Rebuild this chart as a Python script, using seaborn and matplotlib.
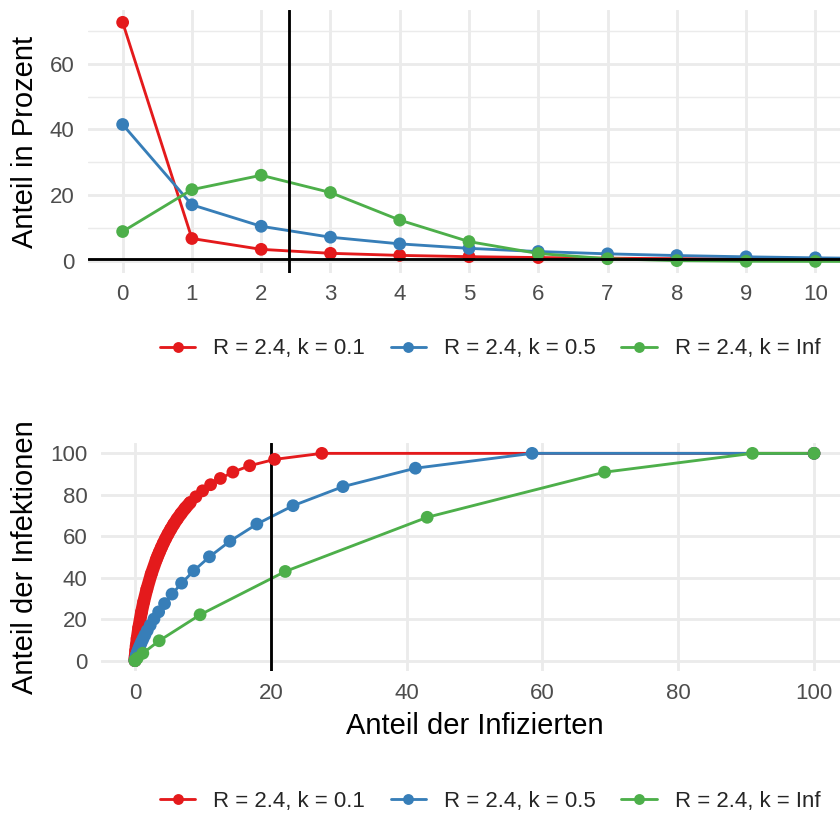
import matplotlib
matplotlib.use("Agg")
import matplotlib.pyplot as plt
from matplotlib.lines import Line2D
from matplotlib.ticker import FixedLocator
import pandas as pd
import seaborn as sns

# ---- data -------------------------------------------------------------
labels = ["R = 2.4, k = 0.1", "R = 2.4, k = 0.5", "R = 2.4, k = Inf"]
colors = ["#E41A1C", "#377EB8", "#4DAF4A"]

# share of cases (in percent) by number of secondary infections
counts = list(range(12))
share_k01 = [72.48, 6.96, 3.67, 2.47, 1.84, 1.45, 1.18, 0.99, 0.84, 0.73, 0.63, 0.56]
share_k05 = [41.52, 17.18, 10.66, 7.35, 5.33, 3.97, 3.01, 2.31, 1.79, 1.40, 1.10, 0.87]
share_kinf = [9.07, 21.77, 26.13, 20.90, 12.54, 6.02, 2.41, 0.83, 0.25, 0.07, 0.02, 0.00]

r_value = 2.4        # vertical reference line (mean of the distribution)
share_ref = 0.8      # horizontal reference line
infected_ref = 20    # vertical reference line in the lower panel

# share of infected persons (x) vs share of infections they cause (y)
infected_k01 = [100, 27.52, 20.56, 16.89, 14.42, 12.58, 11.14, 9.96, 8.97, 8.13,
                7.40, 6.77, 6.21, 5.71, 5.27, 4.87, 4.51, 4.18, 3.89, 3.62, 3.37,
                3.14, 2.40, 1.75, 1.29, 0.96, 0.55, 0.32, 0.19, 0.11, 0.04, 0.01, 0.0]
infections_k01 = [100, 100, 97.10, 94.04, 90.95, 87.89, 84.88, 81.93, 79.05, 76.25,
                  73.52, 70.88, 68.31, 65.83, 63.42, 61.10, 58.85, 56.67, 54.57, 52.55,
                  50.59, 48.70, 41.79, 34.47, 28.40, 23.38, 15.81, 10.68, 7.20, 4.86,
                  2.22, 1.03, 0.0]
infected_k05 = [100, 58.48, 41.30, 30.63, 23.28, 17.95, 13.98, 10.97, 8.66, 6.87,
                5.46, 4.36, 3.49, 2.80, 2.25, 1.81, 1.46, 1.18, 0.95, 0.77, 0.63,
                0.51, 0.41, 0.34, 0.27, 0.22, 0.18, 0.09, 0.03, 0.0]
infections_k05 = [100, 100, 92.84, 83.95, 74.76, 65.88, 57.62, 50.10, 43.35, 37.37,
                  32.11, 27.52, 23.52, 20.07, 17.09, 14.53, 12.34, 10.46, 8.86, 7.50,
                  6.34, 5.35, 4.51, 3.80, 3.20, 2.69, 2.26, 1.07, 0.42, 0.0]
infected_kinf = [100, 90.93, 69.16, 43.03, 22.13, 9.59, 3.57, 1.16, 0.33, 0.09, 0.02, 0.0]
infections_kinf = [100, 100, 90.93, 69.16, 43.03, 22.13, 9.59, 3.57, 1.16, 0.33, 0.09, 0.02]

# ---- tables -------------------------------------------------------------
top = pd.DataFrame({
    "count": counts * 3,
    "share": share_k01 + share_k05 + share_kinf,
    "series": [labels[0]] * len(counts) + [labels[1]] * len(counts) + [labels[2]] * len(counts),
})
bottom = pd.DataFrame({
    "infected": infected_k01 + infected_k05 + infected_kinf,
    "infections": infections_k01 + infections_k05 + infections_kinf,
    "series": [labels[0]] * len(infected_k01) + [labels[1]] * len(infected_k05)
              + [labels[2]] * len(infected_kinf),
})
dense_k01 = pd.DataFrame({"infected": infected_k01[9:], "infections": infections_k01[9:]})

# ---- style --------------------------------------------------------------
sns.set_theme(style="white")
plt.rcParams["font.family"] = ["Liberation Sans", "DejaVu Sans"]

LW = 2.05          # line width (pt)
MS = 9.2           # marker diameter (pt)
GRID = "#EBEBEB"
TICK_COLOR = "#4D4D4D"
palette = dict(zip(labels, colors))

W, H = 840, 823
fig = plt.figure(figsize=(W / 100, H / 100), dpi=100)


def rect(left, top_, right, bottom_):
    return [left / W, 1 - bottom_ / H, (right - left) / W, (bottom_ - top_) / H]


ax1 = fig.add_axes(rect(88, 10.4, 850, 273.4))
ax2 = fig.add_axes(rect(101, 443, 848, 671))

for ax in (ax1, ax2):
    for s in ax.spines.values():
        s.set_visible(False)
    ax.set_facecolor("white")
    ax.set_axisbelow(True)
    ax.tick_params(length=0, labelsize=16, labelcolor=TICK_COLOR)
    ax.tick_params(axis="y", pad=9.7)

# ---- upper panel: distribution of secondary infections --------------------
sns.lineplot(data=top, x="count", y="share", hue="series", hue_order=labels,
             palette=palette, linewidth=LW, estimator=None, sort=False,
             legend=False, ax=ax1, zorder=2)
sns.scatterplot(data=top, x="count", y="share", hue="series", hue_order=labels,
                palette=palette, s=MS ** 2, linewidth=0, legend=False, ax=ax1, zorder=3)
ax1.axvline(r_value, color="black", lw=LW, zorder=4)
ax1.axhline(share_ref, color="black", lw=LW, zorder=4)

ax1.set_xlim(-0.5, 10.5)
ax1.set_ylim(-3.62, 76.1)
ax1.xaxis.set_major_locator(FixedLocator(range(0, 11)))
ax1.yaxis.set_major_locator(FixedLocator([0, 20, 40, 60]))
ax1.yaxis.set_minor_locator(FixedLocator([10, 30, 50, 70]))
ax1.grid(which="major", color=GRID, lw=LW)
ax1.grid(which="minor", axis="y", color=GRID, lw=LW * 0.5)
ax1.tick_params(axis="x", pad=7.5)
ax1.tick_params(which="minor", length=0)
ax1.set_xlabel("")
ax1.set_ylabel("")

# ---- lower panel: concentration of infections ------------------------------
sns.lineplot(data=bottom, x="infected", y="infections", hue="series", hue_order=labels,
             palette=palette, linewidth=LW, estimator=None, sort=False,
             legend=False, ax=ax2, zorder=2)
ax2.axvline(infected_ref, color="black", lw=LW, zorder=2.5)
sns.lineplot(data=dense_k01, x="infected", y="infections", color=colors[0],
             linewidth=MS, estimator=None, sort=False, ax=ax2, zorder=2.9,
             solid_capstyle="round", solid_joinstyle="round")
sns.scatterplot(data=bottom, x="infected", y="infections", hue="series", hue_order=labels,
                palette=palette, s=MS ** 2, linewidth=0, legend=False, ax=ax2, zorder=3)

ax2.set_xlim(-5, 105)
ax2.set_ylim(-5, 105)
ax2.xaxis.set_major_locator(FixedLocator([0, 20, 40, 60, 80, 100]))
ax2.yaxis.set_major_locator(FixedLocator([0, 20, 40, 60, 80, 100]))
ax2.grid(which="major", color=GRID, lw=LW)
ax2.tick_params(axis="x", pad=8.3)
ax2.set_xlabel("")
ax2.set_ylabel("")

# ---- titles ---------------------------------------------------------------
fig.text(25 / W, 1 - 142 / H, "Anteil in Prozent", rotation=90,
         ha="center", va="center", fontsize=21, color="black")
fig.text(25 / W, 1 - 557 / H, "Anteil der Infektionen", rotation=90,
         ha="center", va="center", fontsize=21, color="black")
fig.text(474.5 / W, 1 - 734 / H, "Anteil der Infizierten",
         ha="center", va="baseline", fontsize=21, color="black")

# ---- legends ----------------------------------------------------------------
handles = [Line2D([0], [0], color=c, lw=LW, marker="o", markersize=MS * 0.85,
                  markeredgewidth=0) for c in colors]
for y_px in (349, 801):
    fig.legend(handles, labels, loc="center", bbox_to_anchor=(490 / W, 1 - y_px / H),
               ncol=3, frameon=False, fontsize=16, handlelength=1.6,
               handletextpad=0.8, columnspacing=1.15)

fig.savefig("out.png", dpi=100)
